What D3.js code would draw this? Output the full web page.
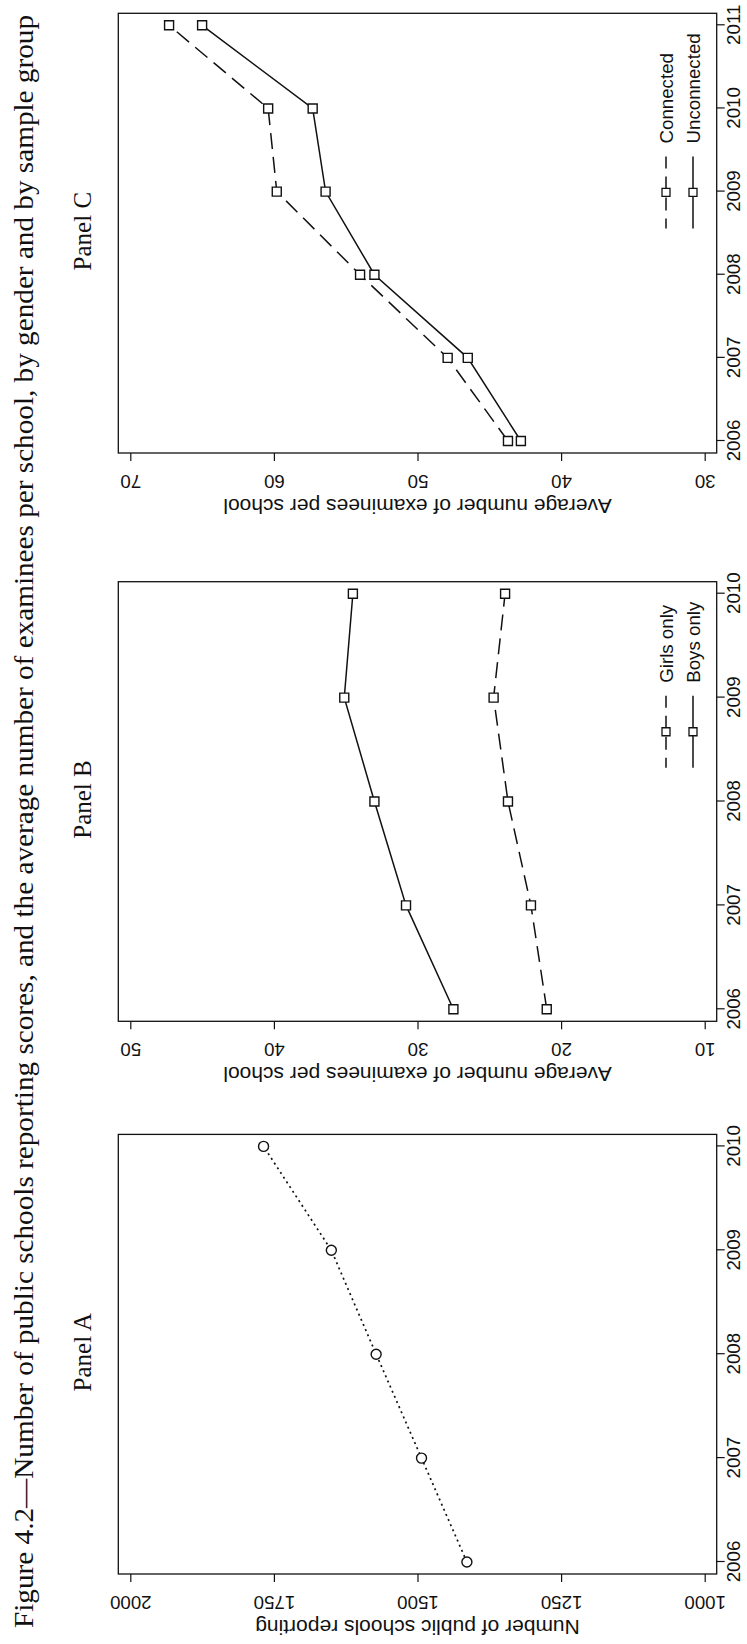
<!DOCTYPE html>
<html>
<head>
<meta charset="utf-8">
<script src="https://cdn.jsdelivr.net/npm/d3@7"></script>
<style>
  html, body { margin: 0; padding: 0; background: #fff; }
  svg { display: block; }
</style>
</head>
<body>
<svg id="chart" width="747" height="1644"></svg>
<script>
// ---- data ----
const yearsAB = [2006, 2007, 2008, 2009, 2010];
const yearsC = [2006, 2007, 2008, 2009, 2010, 2011];
const schoolsReporting = [1414, 1493, 1572, 1650, 1768];
const girlsOnly = [21.0, 22.1, 23.7, 24.7, 23.9];
const boysOnly = [27.5, 30.8, 33.0, 35.1, 34.5];
const connected = [43.7, 47.9, 54.0, 59.8, 60.4, 67.3];
const unconnected = [42.8, 46.5, 53.0, 56.4, 57.3, 65.0];
const ticksA = [1000, 1250, 1500, 1750, 2000];
const ticksB = [10, 20, 30, 40, 50];
const ticksC = [30, 40, 50, 60, 70];
const titleText = "Figure 4.2\u2014Number of public schools reporting scores, and the average number of examinees per school, by gender and by sample group";
const panelNames = ["Panel A", "Panel B", "Panel C"];
const yTitleA = "Number of public schools reporting";
const yTitleBC = "Average number of examinees per school";
const legendB = ["Girls only", "Boys only"];
const legendC = ["Connected", "Unconnected"];

// ---- layout (landscape page, rotated onto the portrait canvas) ----
const PAGE_W = 1644, PAGE_H = 747;
const SANS = "'Liberation Sans', Arial, Helvetica, sans-serif";
const SERIF = "'Liberation Serif', 'Times New Roman', serif";
const AX_FONT = 18.7;
const INK = "#111";
const PAD = 12;
const boxTop = 118.3, boxBottom = 716.7;
const boxes = [
  { x0: 70, x1: 509.6 },
  { x0: 622.7, x1: 1062.3 },
  { x0: 1191, x1: 1630.7 }
];

const svg = d3.select("#chart");
svg.append("rect").attr("width", 747).attr("height", 1644).attr("fill", "#fff");
const page = svg.append("g").attr("transform", `translate(0,${PAGE_W}) rotate(-90)`);

// figure title
const title = page.append("text")
  .attr("x", 16).attr("y", 33)
  .attr("font-family", SERIF).attr("font-size", 27.5)
  .attr("fill", INK)
  .text(titleText);
title.attr("textLength", 1613).attr("lengthAdjust", "spacingAndGlyphs");

function drawPanel(i, cfg) {
  const box = boxes[i];
  const g = page.append("g");
  const x = d3.scaleLinear()
    .domain(d3.extent(cfg.years))
    .range([box.x0 + PAD, box.x1 - PAD]);
  const y = d3.scaleLinear()
    .domain(d3.extent(cfg.ticks))
    .range([boxBottom - PAD, boxTop + PAD]);

  // panel label
  g.append("text")
    .attr("x", (box.x0 + box.x1) / 2 + 2).attr("y", 91)
    .attr("text-anchor", "middle")
    .attr("font-family", SERIF).attr("font-size", 25)
    .attr("fill", INK)
    .text(panelNames[i]);

  // x axis (years)
  const xAxis = g.append("g")
    .attr("transform", `translate(0,${boxBottom})`)
    .call(d3.axisBottom(x).tickValues(cfg.years).tickSize(8).tickFormat(d3.format("d")));
  xAxis.select(".domain").remove();
  xAxis.selectAll("line").attr("stroke", INK).attr("stroke-width", 1.2);
  xAxis.selectAll("text")
    .attr("y", 23.3).attr("dy", null)
    .attr("font-family", SANS).attr("font-size", AX_FONT).attr("fill", INK);

  // y axis (values), labels parallel to the axis
  const yAxis = g.append("g")
    .attr("transform", `translate(${box.x0},0)`)
    .call(d3.axisLeft(y).tickValues(cfg.ticks).tickSize(8).tickFormat(d3.format("d")));
  yAxis.select(".domain").remove();
  yAxis.selectAll("line").attr("stroke", INK).attr("stroke-width", 1.2);
  yAxis.selectAll("text")
    .attr("x", null).attr("dy", null)
    .attr("transform", "translate(-22,0) rotate(-90)")
    .attr("text-anchor", "middle")
    .attr("font-family", SANS).attr("font-size", AX_FONT).attr("fill", INK);

  // y axis title
  g.append("text")
    .attr("transform", `translate(${box.x0 - 46},${(boxTop + boxBottom) / 2}) rotate(-90)`)
    .attr("text-anchor", "middle")
    .attr("font-family", SANS).attr("font-size", 21).attr("fill", INK)
    .text(cfg.yTitle);

  // series
  const line = d3.line().x((d, k) => x(cfg.years[k])).y(d => y(d));
  cfg.series.forEach(s => {
    g.append("path")
      .attr("d", line(s.values))
      .attr("fill", "none")
      .attr("stroke", INK)
      .attr("stroke-width", s.shape === "circle" ? 1.7 : 1.5)
      .attr("stroke-dasharray", s.dash || null);
    const sym = d3.symbol().type(s.shape === "circle" ? d3.symbolCircle : d3.symbolSquare)
      .size(s.shape === "circle" ? Math.PI * 25 : 81);
    g.selectAll(null).data(s.values).enter().append("path")
      .attr("transform", (d, k) => `translate(${x(cfg.years[k])},${y(d)})`)
      .attr("d", sym)
      .attr("fill", "#fff")
      .attr("stroke", INK)
      .attr("stroke-width", 1.4);
  });

  // legend, bottom-right inside the box
  if (cfg.legend) {
    const rows = [666, 693];
    const lg = g.append("g");
    const texts = cfg.legend.map((name, k) => lg.append("text")
      .attr("y", rows[k] + 6.7)
      .attr("font-family", SANS).attr("font-size", AX_FONT).attr("fill", INK)
      .text(name));
    const maxW = d3.max(texts, t => t.node().getComputedTextLength());
    const textX = box.x1 - 20 - maxW;
    texts.forEach(t => t.attr("x", textX));
    const lineX1 = textX - 13, lineX0 = lineX1 - 72;
    cfg.series.forEach((s, k) => {
      lg.append("line")
        .attr("x1", lineX0).attr("x2", lineX1)
        .attr("y1", rows[k]).attr("y2", rows[k])
        .attr("stroke", INK).attr("stroke-width", 1.5)
        .attr("stroke-dasharray", s.dash ? "13,8" : null)
        .attr("stroke-dashoffset", s.dash ? 3 : null);
      lg.append("path")
        .attr("transform", `translate(${(lineX0 + lineX1) / 2},${rows[k]})`)
        .attr("d", d3.symbol().type(d3.symbolSquare).size(64))
        .attr("fill", "#fff").attr("stroke", INK).attr("stroke-width", 1.3);
    });
  }

  // plot box
  g.append("rect")
    .attr("x", box.x0).attr("y", boxTop)
    .attr("width", box.x1 - box.x0).attr("height", boxBottom - boxTop)
    .attr("fill", "none").attr("stroke", INK).attr("stroke-width", 1.3);
}

drawPanel(0, {
  years: yearsAB, ticks: ticksA, yTitle: yTitleA,
  series: [{ values: schoolsReporting, dash: "2,3.6", shape: "circle" }]
});
drawPanel(1, {
  years: yearsAB, ticks: ticksB, yTitle: yTitleBC, legend: legendB,
  series: [
    { values: girlsOnly, dash: "16,8", shape: "square" },
    { values: boysOnly, shape: "square" }
  ]
});
drawPanel(2, {
  years: yearsC, ticks: ticksC, yTitle: yTitleBC, legend: legendC,
  series: [
    { values: connected, dash: "16,8", shape: "square" },
    { values: unconnected, shape: "square" }
  ]
});
</script>
</body>
</html>
